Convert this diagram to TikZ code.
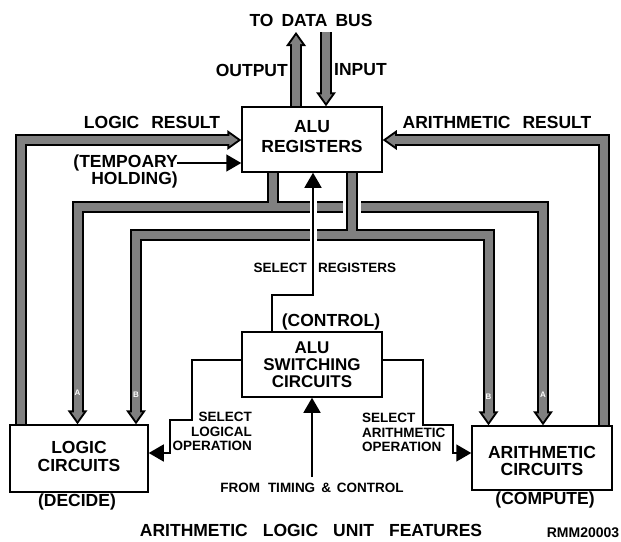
\documentclass[tikz,border=0pt]{standalone}
\usepackage{fontspec}
\setmainfont{Liberation Sans}
\usetikzlibrary{arrows.meta,backgrounds}
\definecolor{busgray}{gray}{0.5}
\newcommand\headK[2]{\fill[black,shift={(#1)},rotate=#2] (0,0) -- (-14,10) -- (-14,-10) -- cycle;}
\newcommand\headG[2]{\fill[busgray,shift={(#1)},rotate=#2] (-3.4,0) -- (-12,6.1) -- (-12,-6.1) -- cycle;}
\begin{document}
\begin{tikzpicture}[x=1pt,y=-1pt,
  box/.style={draw, line width=1.5pt, fill=white, inner sep=0pt, align=center, font=\fontsize{17.5}{20}\selectfont\bfseries},
  lab/.style={inner sep=0pt, font=\fontsize{17.5}{17}\selectfont\bfseries},
  sml/.style={inner sep=0pt, font=\fontsize{13.5}{14.5}\selectfont\bfseries},
  tinyl/.style={inner sep=0pt, text=white, font=\fontsize{8}{8}\selectfont\bfseries},
  wire/.style={line width=1.5pt},
  wirearrow/.style={wire, -{Triangle[length=15pt,width=17pt]}},
  busk/.style={line width=12pt, draw=black, line join=miter},
  busg/.style={line width=8pt, draw=busgray, line join=miter},
]
\useasboundingbox (0,0) rectangle (621,541);

% boxes
\node[box, minimum width=140pt, minimum height=65pt, text depth=7pt] (reg) at (312,139.5) {ALU\\REGISTERS};
\node[box, minimum width=140pt, minimum height=65pt, font=\fontsize{17}{17}\selectfont\bfseries] (sw) at (312,364.5) {ALU\\SWITCHING\\CIRCUITS};
\node[box, minimum width=138pt, minimum height=67pt, font=\fontsize{17.5}{18}\selectfont\bfseries, text depth=5pt] (logic) at (79,458.5) {LOGIC\\CIRCUITS};
\node[box, minimum width=140pt, minimum height=64pt, font=\fontsize{17.5}{17}\selectfont\bfseries, text height=35pt] (arith) at (542,458) {ARITHMETIC\\CIRCUITS};

% helper coordinates
\coordinate (xLR) at (21,0);
\coordinate (xAR) at (603.5,0);
\coordinate (yRes) at (0,140);
\coordinate (xOut) at (296,0);
\coordinate (outTip) at (296,32);
\coordinate (xIn) at (326,0);
\coordinate (inTop) at (326,32);
\coordinate (xA0) at (272.5,0);
\coordinate (xA1) at (77.5,0);
\coordinate (xA2) at (543,0);
\coordinate (yA) at (0,206.5);
\coordinate (xB0) at (352,0);
\coordinate (xB1) at (136,0);
\coordinate (xB2) at (488.5,0);
\coordinate (yB) at (0,235);
\coordinate (tmp) at (177,163);
\coordinate (xSL) at (272,0);
\coordinate (jSR) at (313,295);
\coordinate (xSR) at (313,0);
\coordinate (l1) at (192,360);
\coordinate (l2) at (192,420);
\coordinate (l3) at (170,420);
\coordinate (l4) at (170,453);
\coordinate (r1) at (423,360);
\coordinate (r2) at (423,425);
\coordinate (r3) at (453,425);
\coordinate (r4) at (453,453);
\coordinate (tm) at (312,477);

\begin{pgfonlayer}{background}
\fill[white] (0,0) rectangle (621,541);
% ---- buses: black pass
\draw[busk, shorten >=13pt] (logic.north -| xLR) |- (reg.west |- yRes);
\draw[busk, shorten >=13pt] (arith.north -| xAR) |- (reg.east |- yRes);
\draw[busk, shorten >=13pt] (reg.north -| xOut) -- (outTip);
\draw[busk, shorten >=13pt] (inTop) -- (reg.north -| xIn);
\draw[busk, shorten <=13pt, shorten >=13pt] (logic.north -| xA1) -- (xA1 |- yA) -- (xA2 |- yA) -- (arith.north -| xA2);
\draw[busk] (reg.south -| xA0) -- (xA0 |- yA);
\headK{reg.west |- yRes}{0}
\headK{reg.east |- yRes}{180}
\headK{outTip}{90}
\headK{reg.north -| xIn}{-90}
\headK{logic.north -| xA1}{-90}
\headK{arith.north -| xA2}{-90}
% ---- buses: grey pass
\draw[busg, shorten >=11pt] (logic.north -| xLR) |- (reg.west |- yRes);
\draw[busg, shorten >=11pt] (arith.north -| xAR) |- (reg.east |- yRes);
\draw[busg, shorten >=11pt] (reg.north -| xOut) -- (outTip);
\draw[busg, shorten >=11pt] (inTop) -- (reg.north -| xIn);
\draw[busg, shorten <=11pt, shorten >=11pt] (logic.north -| xA1) -- (xA1 |- yA) -- (xA2 |- yA) -- (arith.north -| xA2);
\draw[busg] (reg.south -| xA0) -- (xA0 |- yA);
\headG{reg.west |- yRes}{0}
\headG{reg.east |- yRes}{180}
\headG{outTip}{90}
\headG{reg.north -| xIn}{-90}
\headG{logic.north -| xA1}{-90}
\headG{arith.north -| xA2}{-90}
% ---- bus B (crosses bus A)
\draw[line width=18pt, white] (reg.south -| xB0) -- (xB0 |- yB);
\draw[busk, shorten <=13pt, shorten >=13pt] (logic.north -| xB1) -- (xB1 |- yB) -- (xB2 |- yB) -- (arith.north -| xB2);
\draw[busk] (reg.south -| xB0) -- (xB0 |- yB);
\headK{logic.north -| xB1}{-90}
\headK{arith.north -| xB2}{-90}
\draw[busg, shorten <=11pt, shorten >=11pt] (logic.north -| xB1) -- (xB1 |- yB) -- (xB2 |- yB) -- (arith.north -| xB2);
\draw[busg] (reg.south -| xB0) -- (xB0 |- yB);
\headG{logic.north -| xB1}{-90}
\headG{arith.north -| xB2}{-90}

% ---- control wires
\draw[wirearrow] (tmp) -- (tmp -| reg.west);
\draw[wirearrow, preaction={draw=white, line width=7pt, -}] (sw.north -| xSL) |- (jSR) -- (reg.south -| xSR);
\draw[wirearrow] (sw.west |- l1) -- (l1) -- (l2) -- (l3) -- (l4) -- (logic.east |- l4);
\draw[wirearrow] (sw.east |- r1) -- (r1) -- (r2) -- (r3) -- (r4) -- (arith.west |- r4);
\draw[wirearrow] (tm) -- (sw.south -| tm);
\end{pgfonlayer}

% small bus letters
\node[tinyl] (la) at (77.5,393) {A};
\node[tinyl] (lb) at (136,395) {B};
\node[tinyl] (rb) at (488.5,397) {B};
\node[tinyl] (ra) at (543,395) {A};

% labels
\node[lab] (tdb) at (311,20) {TO\hspace{8pt}DATA\hspace{8pt}BUS};
\node[lab, anchor=east] (outl) at (288,70) {OUTPUT};
\node[lab, anchor=west] (inl) at (334,70) {INPUT};
\node[lab] (lrl) at (152,122) {LOGIC\hspace{12pt}RESULT};
\node[lab] (arl) at (497,122) {ARITHMETIC\hspace{12pt}RESULT};
\node[lab, align=right, anchor=east] (tmpl) at (178,171.5) {(TEMPOARY\\HOLDING)};
\node[sml, anchor=east] (srl) at (307,268) {SELECT};
\node[sml, anchor=west] (srr) at (318,268) {REGISTERS};
\node[lab] (ctl) at (331,322) {(CONTROL)};
\node[sml, align=right, anchor=east] (sll) at (252,431.5) {SELECT\\LOGICAL\\OPERATION};
\node[sml, align=left, anchor=west] (sal) at (362,432.5) {SELECT\\ARITHMETIC\\OPERATION};
\node[sml] (ftc) at (312,488) {FROM\hspace{8pt}TIMING\hspace{6pt}\&\hspace{6pt}CONTROL};
\node[lab] (dec) at (77,502) {(DECIDE)};
\node[lab] (cmp) at (545,500) {(COMPUTE)};
\node[lab] (ttl) at (311,530) {ARITHMETIC\hspace{15pt}LOGIC\hspace{15pt}UNIT\hspace{15pt}FEATURES};
\node[sml, font=\fontsize{14}{14}\selectfont\bfseries] (rmm) at (583,533) {RMM20003};
\end{tikzpicture}
\end{document}
